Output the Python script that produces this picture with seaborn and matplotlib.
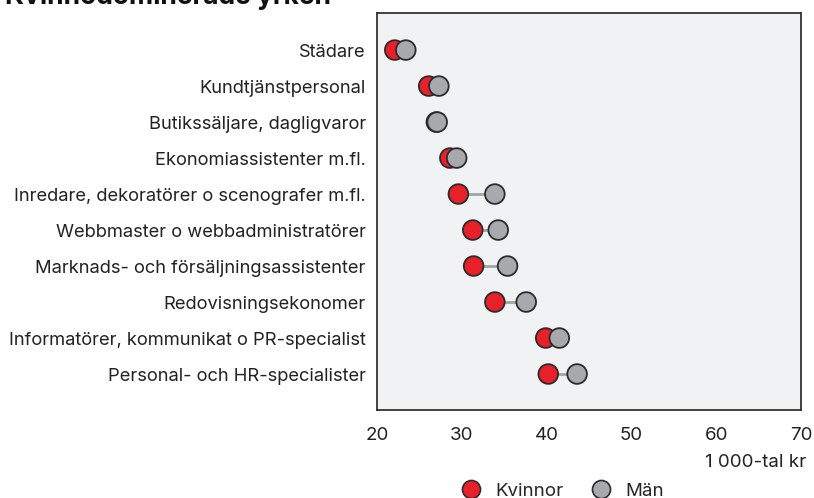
import pandas as pd
import matplotlib.pyplot as plt
import seaborn as sns
from matplotlib.lines import Line2D

# data
yrken = ['Städare', 'Kundtjänstpersonal', 'Butikssäljare, dagligvaror',
         'Ekonomiassistenter m.fl.', 'Inredare, dekoratörer o scenografer m.fl.',
         'Webbmaster o webbadministratörer', 'Marknads- och försäljningsassistenter',
         'Redovisningsekonomer', 'Informatörer, kommunikat o PR-specialist',
         'Personal- och HR-specialister']
kvinnor = [22.1, 26.1, 27.0, 28.6, 29.6, 31.3, 31.4, 33.9, 39.9, 40.2]
man = [23.4, 27.3, 27.1, 29.4, 33.9, 34.3, 35.4, 37.6, 41.5, 43.6]

rod = '#e8202a'
gra = '#a7a9ac'

sns.set_style('white')
plt.rcParams['font.family'] = ['Inter', 'DejaVu Sans']

df = pd.DataFrame({
    'yrke': yrken * 2,
    'lon': kvinnor + man,
    'kon': ['Kvinnor'] * len(yrken) + ['Män'] * len(yrken),
})

fig = plt.figure(figsize=(8.14, 4.98), dpi=100)
ax = fig.add_axes([0.4631, 0.1767, 0.5209, 0.7972])
ax.set_facecolor('#f1f2f4')

# linjer mellan kvinnor och män
ax.hlines(yrken, kvinnor, man, color='#a3a3a3', lw=2, zorder=1)

sns.scatterplot(data=df, x='lon', y='yrke', hue='kon',
                palette={'Kvinnor': rod, 'Män': gra},
                s=200, edgecolor='#2b2b2b', linewidth=1.3,
                legend=False, ax=ax, zorder=3)

ax.set_xlim(20, 70)
ax.set_ylim(len(yrken) - 1 + 1.0, -1.03)
ax.set_xticks([20, 30, 40, 50, 60, 70])
ax.set_xlabel('')
ax.set_ylabel('')
ax.tick_params(axis='x', length=6, width=1, color='#333333', labelsize=13.5,
               pad=6, labelcolor='#222222')
ax.tick_params(axis='y', length=3, width=0.8, color='#555555', labelsize=13.2,
               pad=5, labelcolor='#222222')
for s in ax.spines.values():
    s.set_color('#333333')
    s.set_linewidth(1.3)

fig.text(0.991, 1 - 462 / 498, '1 000-tal kr', ha='right', va='center',
         fontsize=13.5, color='#222222')

# rubriken är avskuren upptill, som i förlagan
fig.text(0.006, 1 - 4 / 498, 'Kvinnodominerade yrken', ha='left',
         va='baseline', fontsize=19, fontweight='bold', color='#111111')

handles = [Line2D([], [], marker='o', ls='', markersize=13, markerfacecolor=rod,
                  markeredgecolor='#2b2b2b', markeredgewidth=1.2),
           Line2D([], [], marker='o', ls='', markersize=13, markerfacecolor=gra,
                  markeredgecolor='#2b2b2b', markeredgewidth=1.2)]
fig.legend(handles, ['Kvinnor', 'Män'], loc='center',
           bbox_to_anchor=(0.691, 1 - 491 / 498), ncol=2, frameon=False,
           fontsize=13.5, handlelength=1.0, handletextpad=0.8,
           columnspacing=1.5)

fig.savefig('out.png', dpi=100)
